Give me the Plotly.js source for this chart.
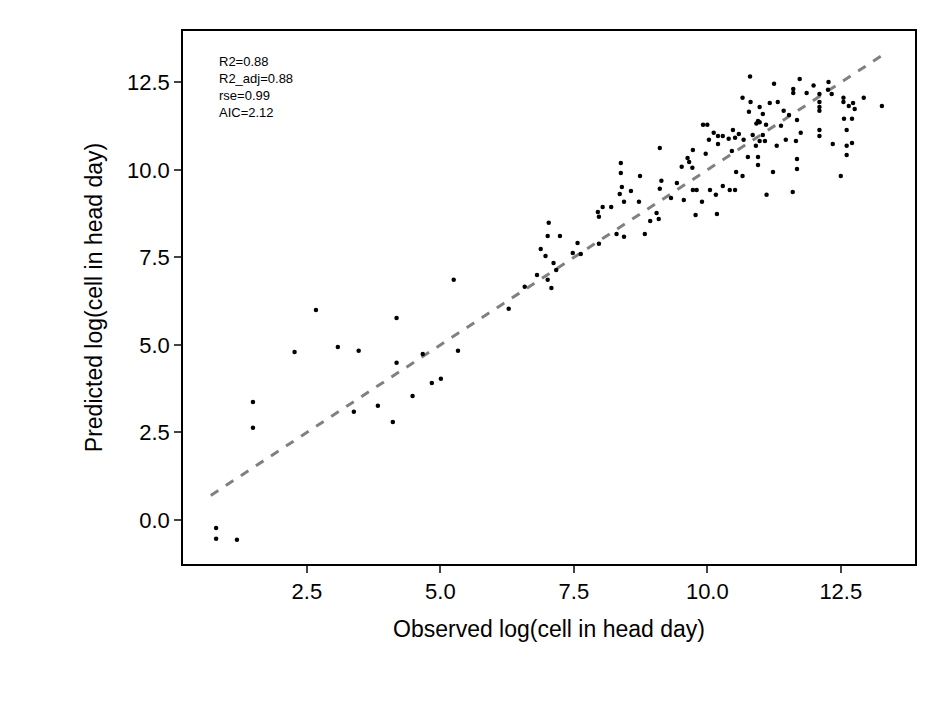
<!DOCTYPE html><html><head><script src="https://cdn.plot.ly/plotly-3.0.1.min.js"></script></head><body style="margin:0"><div id="c" style="width:944px;height:708px"></div><script>
const obsX=[10.80,11.25,11.73,11.61,11.61,11.99,11.86,12.27,12.1,12.26,12.33,12.55,12.55,12.65,12.73,12.76,12.93,13.27,12.1,12.1,12.1,12.56,12.71,12.61,12.1,12.1,12.35,12.71,12.61,12.61,12.5,10.66,10.81,10.98,11.17,11.32,10.78,11.04,11.43,11.53,11.68,10.95,10.92,10.98,11.1,11.38,11.75,10.85,11.04,10.98,11.08,10.68,10.91,11.3,11.47,11.66,10.76,10.95,10.95,11.68,11.68,11.23,11.11,11.6,9.92,10.0,10.12,10.2,10.29,10.4,10.48,10.59,10.52,10.03,10.2,9.73,9.63,9.66,9.97,10.46,9.52,9.72,9.11,8.38,8.38,8.74,8.4,8.57,8.36,8.44,8.72,9.14,9.11,9.43,9.32,9.56,9.73,9.8,9.9,10.05,10.16,10.18,9.78,10.29,10.42,10.52,10.54,10.66,9.05,9.09,8.93,8.83,7.95,7.97,8.04,8.2,8.3,8.44,7.03,7.01,7.24,6.88,6.97,7.12,7.17,7.01,7.08,6.81,6.58,6.28,7.48,7.57,7.63,7.97,0.80,0.80,1.19,1.49,1.49,2.27,2.67,3.08,3.47,3.38,3.83,4.11,4.18,4.18,4.48,4.67,4.84,5.01,5.25,5.33];
const predY=[12.67,12.46,12.6,12.31,12.2,12.41,12.2,12.51,12.17,12.29,12.17,12.06,11.94,11.83,11.91,11.74,12.06,11.83,11.94,11.8,11.69,11.46,11.46,11.14,11.14,10.97,10.74,10.77,10.69,10.43,9.83,12.06,11.94,11.8,11.91,11.94,11.66,11.6,11.69,11.57,11.43,11.4,11.33,11.36,11.29,11.26,11.06,11.0,11.0,10.83,10.83,10.86,10.69,10.69,10.86,10.83,10.37,10.37,10.14,10.31,10.03,9.94,9.29,9.37,11.29,11.29,11.06,10.97,10.97,10.89,11.14,11.03,10.92,10.86,10.74,10.57,10.34,10.23,10.46,10.54,10.09,10.06,10.63,10.2,9.91,9.83,9.51,9.4,9.31,9.09,9.09,9.69,9.46,9.63,9.2,9.14,9.43,9.43,9.09,9.43,9.29,8.74,8.71,9.54,9.43,9.43,9.94,9.83,8.77,8.6,8.54,8.17,8.8,8.66,8.94,8.94,8.17,8.09,8.49,8.11,8.11,7.74,7.54,7.34,7.14,6.86,6.63,7.0,6.66,6.03,7.63,7.91,7.6,7.89,-0.23,-0.54,-0.57,3.37,2.63,4.8,6.0,4.94,4.83,3.09,3.26,2.8,5.77,4.49,3.54,4.74,3.91,4.03,6.86,4.83];
const lineX=[0.7,13.3];
const lineY=[0.7,13.3];
const statsText=["R2=0.88","R2_adj=0.88","rse=0.99","AIC=2.12"];
Plotly.newPlot('c',[
{x:lineX,y:lineY,mode:'lines',line:{color:'#808080',width:3,dash:'dash'},hoverinfo:'skip'},
{x:obsX,y:predY,mode:'markers',marker:{color:'black',size:4.5}}
],{width:944,height:708,showlegend:false,paper_bgcolor:'white',plot_bgcolor:'white',
margin:{l:183,r:29,t:31,b:144},
font:{family:'Liberation Sans, Arial',size:22,color:'black'},
xaxis:{range:[0.18,13.89],tickvals:[2.5,5,7.5,10,12.5],ticktext:['2.5','5.0','7.5','10.0','12.5'],showgrid:false,zeroline:false,showline:true,mirror:true,linecolor:'black',linewidth:1.5,ticks:'outside',ticklen:7,tickwidth:1.5,title:{text:'Observed log(cell in head day)',font:{size:23},standoff:18}},
yaxis:{range:[-1.26,13.97],tickvals:[0,2.5,5,7.5,10,12.5],ticktext:['0.0','2.5','5.0','7.5','10.0','12.5'],showgrid:false,zeroline:false,showline:true,mirror:true,linecolor:'black',linewidth:1.5,ticks:'outside',ticklen:7,tickwidth:1.5,title:{text:'Predicted log(cell in head day)',font:{size:23},standoff:18}},
annotations:[{xref:'paper',yref:'paper',x:0.046,y:0.96,xanchor:'left',yanchor:'top',align:'left',showarrow:false,text:statsText.join('<br>'),font:{size:13}}]
},{displayModeBar:false});
</script></body></html>
